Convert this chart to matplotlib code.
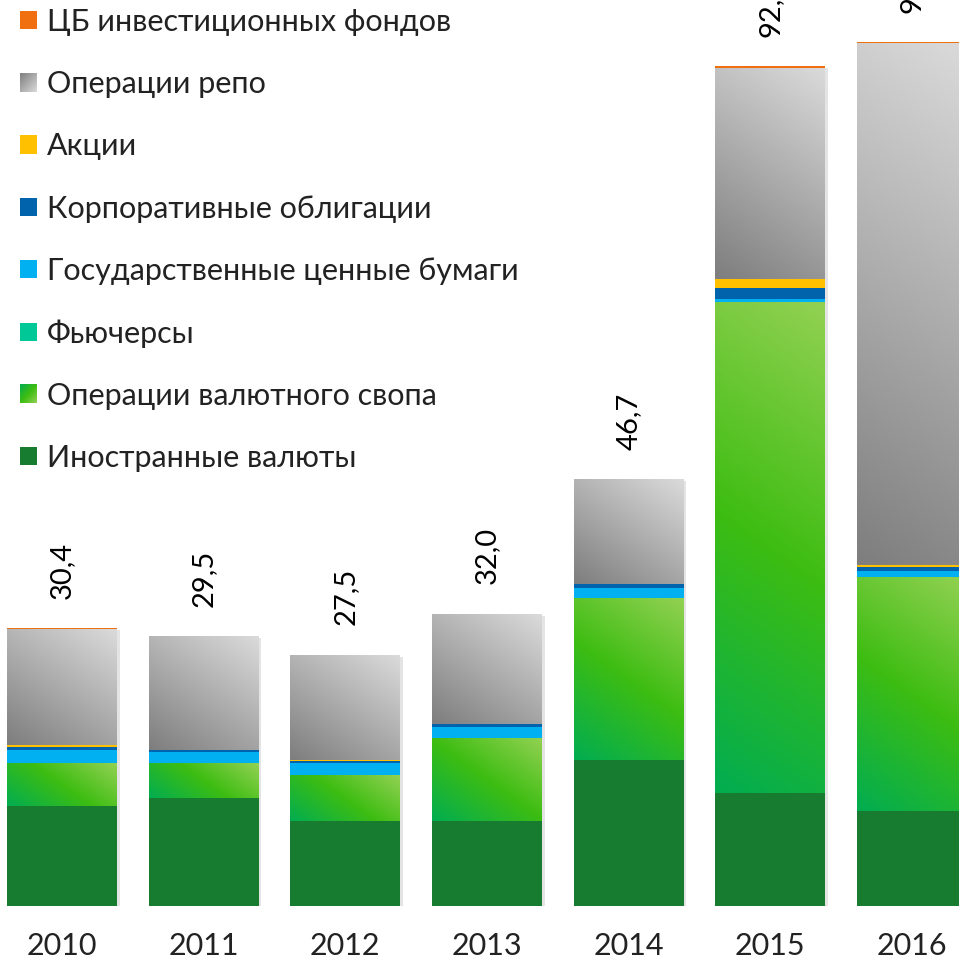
import matplotlib
matplotlib.use('Agg')
import matplotlib.pyplot as plt
import numpy as np
from matplotlib.colors import LinearSegmentedColormap
from matplotlib.patches import Patch
from matplotlib.legend_handler import HandlerBase
from matplotlib.image import BboxImage
from matplotlib.transforms import Bbox, TransformedBbox
import matplotlib.patheffects as pe

plt.rcParams['font.family'] = ['Lato', 'DejaVu Sans']

years = ['2010', '2011', '2012', '2013', '2014', '2015', '2016']
foreign = [10.9, 11.8, 9.3, 9.3, 16.0, 12.3, 10.4]
swap = [4.7, 3.8, 5.0, 9.1, 17.7, 53.8, 25.6]
futures = [0.0, 0.0, 0.0, 0.0, 0.0, 0.0, 0.0]
gov = [1.5, 1.2, 1.3, 1.2, 1.1, 0.4, 0.65]
corp = [0.25, 0.2, 0.3, 0.3, 0.4, 1.2, 0.45]
stocks = [0.3, 0.1, 0.05, 0.05, 0.05, 0.9, 0.2]
repo = [12.7, 12.4, 11.5, 12.0, 11.4, 23.2, 57.2]
funds = [0.05, 0.0, 0.0, 0.0, 0.0, 0.15, 0.1]
totals = [30.4, 29.5, 27.5, 32.0, 46.7, 92.0, 94.6]
total_labels = ['30,4', '29,5', '27,5', '32,0', '46,7', '92,0', '94,6']

names = ['Иностранные валюты', 'Операции валютного свопа', 'Фьючерсы',
         'Государственные ценные бумаги', 'Корпоративные облигации', 'Акции',
         'Операции репо', 'ЦБ инвестиционных фондов']

swap_cmap = LinearSegmentedColormap.from_list(
    'swap', ['#02ad50', '#3dbd12', '#92d152'])
repo_cmap = LinearSegmentedColormap.from_list('repo', ['#7e7e7e', '#dadada'])
styles = ['#177c30', swap_cmap, '#00c896', '#00b0f0', '#0063ab', '#ffc000',
          repo_cmap, '#f07010']
series = [foreign, swap, futures, gov, corp, stocks, repo, funds]

fig = plt.figure(figsize=(9.59, 9.6), dpi=100)
ax = fig.add_axes([0, 0.0566, 1, 0.9434])
ax.axis('off')

x = np.arange(len(years))
width = 0.776
xlim = (-0.4375, 6.332)
ylim = (0, 99.2)


def grad_img(w_px, h_px, angle=55):
    n = 64
    xs = np.linspace(0, w_px, n)
    ys = np.linspace(0, h_px, n)
    X, Y = np.meshgrid(xs, ys)
    a = np.radians(angle)
    t = np.cos(a) * X + np.sin(a) * Y
    return (t - t.min()) / (t.max() - t.min() + 1e-9)


px_x = fig.get_size_inches()[0] * fig.dpi / (xlim[1] - xlim[0])
px_y = fig.get_size_inches()[1] * fig.dpi * 0.9434 / (ylim[1] - ylim[0])

# soft shadow under each whole bar
ax.bar(x, totals, width, color='white', zorder=1,
       path_effects=[pe.SimplePatchShadow(offset=(2, -1.5), shadow_rgbFace='#888888', alpha=0.22),
                     pe.Normal()])

bottom = np.zeros(len(years))
for vals, st in zip(series, styles):
    vals = np.array(vals)
    for i in range(len(years)):
        if vals[i] <= 0:
            continue
        if isinstance(st, str):
            ax.bar(x[i], vals[i], width, bottom=bottom[i], color=st, zorder=2,
                   linewidth=0)
        else:
            g = grad_img(width * px_x, vals[i] * px_y)
            ax.imshow(g, cmap=st, origin='lower', aspect='auto', zorder=2,
                      interpolation='bilinear',
                      extent=[x[i] - width / 2, x[i] + width / 2,
                              bottom[i], bottom[i] + vals[i]])
    bottom += vals

ax.set_xlim(*xlim)
ax.set_ylim(*ylim)

for i in range(len(years)):
    ax.text(x[i], totals[i] + 3.2, total_labels[i], rotation=90, ha='center',
            va='bottom', fontsize=21, color='black')
    ax.text(x[i], -4.4, years[i], ha='center', va='center', fontsize=22,
            color='#222222', clip_on=False)


class GradHandler(HandlerBase):
    def __init__(self, cmap):
        super().__init__()
        self.cmap = cmap

    def create_artists(self, legend, orig_handle, xdescent, ydescent, width,
                       height, fontsize, trans):
        bb = TransformedBbox(Bbox.from_bounds(-xdescent, -ydescent, width, height), trans)
        img = BboxImage(bb, cmap=self.cmap, interpolation='bilinear')
        img.set_data(grad_img(1, 1, 45))
        return [img]


handles = []
hmap = {}
for name, st in zip(names, styles):
    if isinstance(st, str):
        h = Patch(facecolor=st, edgecolor='none')
    else:
        h = Patch(facecolor='none', edgecolor='none')
        hmap[h] = GradHandler(st)
    handles.append(h)

leg = fig.legend(handles[::-1], names[::-1], handler_map=hmap,
                 loc='upper left', bbox_to_anchor=(20 / 959, 1 - 8 / 960),
                 frameon=False, prop={'size': 22},
                 handlelength=0.55, handleheight=0.55,
                 handletextpad=0.33, labelspacing=1.12, borderpad=0,
                 borderaxespad=0)
for t in leg.get_texts():
    t.set_color('#222222')

fig.savefig('out.png', dpi=100)
